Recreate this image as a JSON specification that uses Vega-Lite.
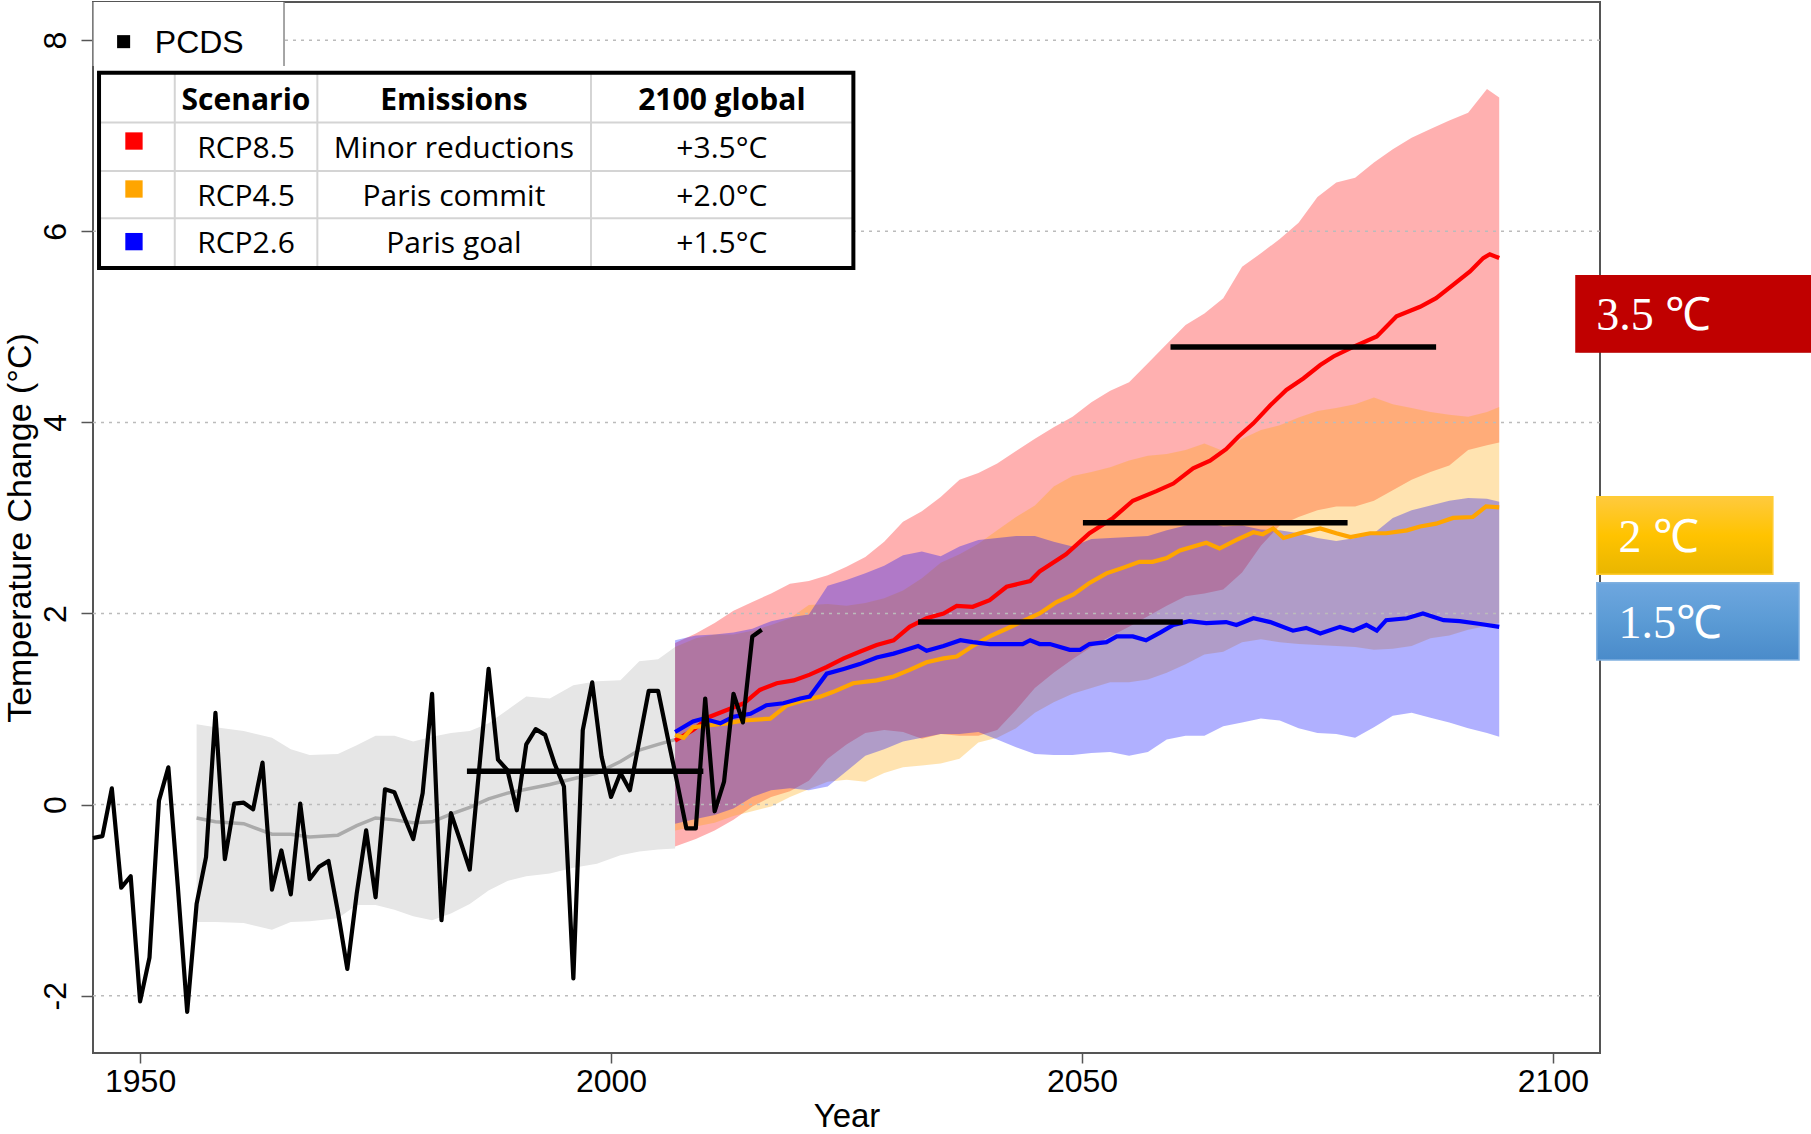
{
"$schema": "https://vega.github.io/schema/vega-lite/v6.json",
"width": 1507, "height": 1051,
"autosize": {"type": "none"},
"padding": {"left": 93, "top": 2, "right": 211, "bottom": 81},
"background": "white",
"config": {"view": {"stroke": "#555555", "strokeWidth": 2}, "font": "Liberation Sans"},
"datasets": {
"hist": [
{"year":1956,"lo":-1.23,"hi":0.84,"mid":-0.14},{"year":1958,"lo":-1.23,"hi":0.81,"mid":-0.18},{"year":1961,"lo":-1.24,"hi":0.77,"mid":-0.20},{"year":1964,"lo":-1.31,"hi":0.70,"mid":-0.31},{"year":1966,"lo":-1.23,"hi":0.58,"mid":-0.31},{"year":1968,"lo":-1.22,"hi":0.52,"mid":-0.34},{"year":1971,"lo":-1.19,"hi":0.53,"mid":-0.32},{"year":1973,"lo":-1.05,"hi":0.62,"mid":-0.22},{"year":1975,"lo":-1.05,"hi":0.72,"mid":-0.14},{"year":1977,"lo":-1.10,"hi":0.72,"mid":-0.16},{"year":1979,"lo":-1.17,"hi":0.66,"mid":-0.19},{"year":1981,"lo":-1.21,"hi":0.71,"mid":-0.18},{"year":1983,"lo":-1.14,"hi":0.75,"mid":-0.10},{"year":1985,"lo":-1.04,"hi":0.77,"mid":-0.03},{"year":1987,"lo":-0.90,"hi":0.85,"mid":0.06},{"year":1989,"lo":-0.80,"hi":0.99,"mid":0.12},{"year":1991,"lo":-0.75,"hi":1.13,"mid":0.16},{"year":1993.5,"lo":-0.72,"hi":1.11,"mid":0.21},{"year":1996,"lo":-0.66,"hi":1.25,"mid":0.27},{"year":1998.5,"lo":-0.62,"hi":1.29,"mid":0.33},{"year":2001,"lo":-0.53,"hi":1.30,"mid":0.45},{"year":2003,"lo":-0.49,"hi":1.50,"mid":0.57},{"year":2005,"lo":-0.47,"hi":1.52,"mid":0.63},{"year":2006.8,"lo":-0.46,"hi":1.65,"mid":0.68}
],
"proj": [
{"year":2006.8,"r_lo":-0.44,"r_hi":1.69,"o_lo":-0.27,"o_hi":1.65,"b_lo":-0.20,"b_hi":1.72},
{"year":2009,"r_lo":-0.36,"r_hi":1.79,"o_lo":-0.23,"o_hi":1.74,"b_lo":-0.15,"b_hi":1.77},
{"year":2011,"r_lo":-0.27,"r_hi":1.90,"o_lo":-0.19,"o_hi":1.78,"b_lo":-0.11,"b_hi":1.78},
{"year":2013,"r_lo":-0.16,"r_hi":2.03,"o_lo":-0.12,"o_hi":1.78,"b_lo":-0.04,"b_hi":1.80},
{"year":2015,"r_lo":-0.02,"r_hi":2.12,"o_lo":-0.07,"o_hi":1.82,"b_lo":0.08,"b_hi":1.84},
{"year":2017,"r_lo":0.08,"r_hi":2.21,"o_lo":-0.02,"o_hi":1.88,"b_lo":0.15,"b_hi":1.92},
{"year":2019,"r_lo":0.14,"r_hi":2.31,"o_lo":0.08,"o_hi":1.95,"b_lo":0.17,"b_hi":1.96},
{"year":2021,"r_lo":0.25,"r_hi":2.34,"o_lo":0.16,"o_hi":2.09,"b_lo":0.15,"b_hi":1.99},
{"year":2023,"r_lo":0.48,"r_hi":2.40,"o_lo":0.24,"o_hi":2.10,"b_lo":0.19,"b_hi":2.29},
{"year":2025,"r_lo":0.63,"r_hi":2.49,"o_lo":0.26,"o_hi":2.08,"b_lo":0.35,"b_hi":2.35},
{"year":2027,"r_lo":0.75,"r_hi":2.59,"o_lo":0.24,"o_hi":2.11,"b_lo":0.51,"b_hi":2.42},
{"year":2029,"r_lo":0.78,"r_hi":2.75,"o_lo":0.33,"o_hi":2.16,"b_lo":0.58,"b_hi":2.50},
{"year":2031,"r_lo":0.76,"r_hi":2.96,"o_lo":0.39,"o_hi":2.24,"b_lo":0.66,"b_hi":2.61},
{"year":2033,"r_lo":0.69,"r_hi":3.07,"o_lo":0.41,"o_hi":2.37,"b_lo":0.70,"b_hi":2.65},
{"year":2035,"r_lo":0.74,"r_hi":3.22,"o_lo":0.43,"o_hi":2.53,"b_lo":0.74,"b_hi":2.60},
{"year":2037,"r_lo":0.72,"r_hi":3.40,"o_lo":0.48,"o_hi":2.62,"b_lo":0.74,"b_hi":2.70},
{"year":2039,"r_lo":0.72,"r_hi":3.47,"o_lo":0.65,"o_hi":2.73,"b_lo":0.76,"b_hi":2.77},
{"year":2041,"r_lo":0.78,"r_hi":3.57,"o_lo":0.70,"o_hi":2.87,"b_lo":0.68,"b_hi":2.79},
{"year":2043,"r_lo":0.99,"r_hi":3.70,"o_lo":0.80,"o_hi":3.01,"b_lo":0.60,"b_hi":2.81},
{"year":2045,"r_lo":1.22,"r_hi":3.83,"o_lo":0.96,"o_hi":3.13,"b_lo":0.53,"b_hi":2.81},
{"year":2047,"r_lo":1.38,"r_hi":3.95,"o_lo":1.07,"o_hi":3.33,"b_lo":0.52,"b_hi":2.75},
{"year":2049,"r_lo":1.52,"r_hi":4.06,"o_lo":1.16,"o_hi":3.44,"b_lo":0.52,"b_hi":2.70},
{"year":2051,"r_lo":1.65,"r_hi":4.21,"o_lo":1.22,"o_hi":3.48,"b_lo":0.54,"b_hi":2.78},
{"year":2053,"r_lo":1.76,"r_hi":4.33,"o_lo":1.28,"o_hi":3.53,"b_lo":0.55,"b_hi":2.79},
{"year":2055,"r_lo":1.86,"r_hi":4.42,"o_lo":1.28,"o_hi":3.60,"b_lo":0.51,"b_hi":2.80},
{"year":2057,"r_lo":1.97,"r_hi":4.62,"o_lo":1.31,"o_hi":3.65,"b_lo":0.55,"b_hi":2.81},
{"year":2059,"r_lo":2.08,"r_hi":4.82,"o_lo":1.38,"o_hi":3.67,"b_lo":0.68,"b_hi":2.87},
{"year":2061,"r_lo":2.18,"r_hi":5.02,"o_lo":1.47,"o_hi":3.71,"b_lo":0.72,"b_hi":2.92},
{"year":2063,"r_lo":2.21,"r_hi":5.14,"o_lo":1.57,"o_hi":3.78,"b_lo":0.72,"b_hi":2.96},
{"year":2065,"r_lo":2.25,"r_hi":5.30,"o_lo":1.60,"o_hi":3.70,"b_lo":0.82,"b_hi":2.91},
{"year":2067,"r_lo":2.43,"r_hi":5.63,"o_lo":1.70,"o_hi":3.83,"b_lo":0.86,"b_hi":2.92},
{"year":2069,"r_lo":2.71,"r_hi":5.77,"o_lo":1.73,"o_hi":3.92,"b_lo":0.90,"b_hi":2.88},
{"year":2071,"r_lo":2.92,"r_hi":5.92,"o_lo":1.70,"o_hi":3.97,"b_lo":0.88,"b_hi":2.87},
{"year":2073,"r_lo":3.01,"r_hi":6.09,"o_lo":1.68,"o_hi":4.05,"b_lo":0.80,"b_hi":2.84},
{"year":2075,"r_lo":3.08,"r_hi":6.36,"o_lo":1.67,"o_hi":4.12,"b_lo":0.75,"b_hi":2.79},
{"year":2077,"r_lo":3.12,"r_hi":6.51,"o_lo":1.66,"o_hi":4.15,"b_lo":0.74,"b_hi":2.76},
{"year":2079,"r_lo":3.12,"r_hi":6.56,"o_lo":1.65,"o_hi":4.19,"b_lo":0.70,"b_hi":2.79},
{"year":2081,"r_lo":3.18,"r_hi":6.72,"o_lo":1.62,"o_hi":4.26,"b_lo":0.81,"b_hi":2.84},
{"year":2083,"r_lo":3.29,"r_hi":6.86,"o_lo":1.63,"o_hi":4.19,"b_lo":0.93,"b_hi":3.00},
{"year":2085,"r_lo":3.40,"r_hi":6.98,"o_lo":1.66,"o_hi":4.15,"b_lo":0.96,"b_hi":3.08},
{"year":2087,"r_lo":3.48,"r_hi":7.07,"o_lo":1.74,"o_hi":4.11,"b_lo":0.91,"b_hi":3.13},
{"year":2089,"r_lo":3.55,"r_hi":7.16,"o_lo":1.77,"o_hi":4.08,"b_lo":0.86,"b_hi":3.18},
{"year":2091,"r_lo":3.71,"r_hi":7.24,"o_lo":1.83,"o_hi":4.06,"b_lo":0.80,"b_hi":3.21},
{"year":2093,"r_lo":3.76,"r_hi":7.49,"o_lo":1.87,"o_hi":4.11,"b_lo":0.75,"b_hi":3.20},
{"year":2094.3,"r_lo":3.79,"r_hi":7.40,"o_lo":1.90,"o_hi":4.16,"b_lo":0.71,"b_hi":3.17}
],
"lines": [
{"s":"RCP8.5","year":2006.8,"temp":0.67},{"s":"RCP8.5","year":2008.7,"temp":0.78},{"s":"RCP8.5","year":2010.5,"temp":0.92},{"s":"RCP8.5","year":2012.3,"temp":0.99},{"s":"RCP8.5","year":2014.1,"temp":1.06},{"s":"RCP8.5","year":2015.8,"temp":1.20},{"s":"RCP8.5","year":2017.6,"temp":1.27},{"s":"RCP8.5","year":2019.4,"temp":1.30},{"s":"RCP8.5","year":2021.1,"temp":1.36},{"s":"RCP8.5","year":2022.9,"temp":1.44},{"s":"RCP8.5","year":2024.7,"temp":1.53},{"s":"RCP8.5","year":2026.4,"temp":1.60},{"s":"RCP8.5","year":2028.2,"temp":1.67},{"s":"RCP8.5","year":2030.0,"temp":1.72},{"s":"RCP8.5","year":2031.7,"temp":1.86},{"s":"RCP8.5","year":2033.5,"temp":1.95},{"s":"RCP8.5","year":2035.3,"temp":2.00},{"s":"RCP8.5","year":2036.7,"temp":2.08},{"s":"RCP8.5","year":2038.4,"temp":2.07},{"s":"RCP8.5","year":2040.2,"temp":2.14},{"s":"RCP8.5","year":2042.0,"temp":2.28},{"s":"RCP8.5","year":2044.5,"temp":2.34},{"s":"RCP8.5","year":2045.5,"temp":2.44},{"s":"RCP8.5","year":2048.3,"temp":2.62},{"s":"RCP8.5","year":2050.8,"temp":2.84},{"s":"RCP8.5","year":2053.3,"temp":3.00},{"s":"RCP8.5","year":2055.4,"temp":3.18},{"s":"RCP8.5","year":2057.9,"temp":3.28},{"s":"RCP8.5","year":2059.7,"temp":3.36},{"s":"RCP8.5","year":2061.8,"temp":3.52},{"s":"RCP8.5","year":2063.6,"temp":3.60},{"s":"RCP8.5","year":2065.3,"temp":3.72},{"s":"RCP8.5","year":2066.6,"temp":3.85},{"s":"RCP8.5","year":2068.2,"temp":3.99},{"s":"RCP8.5","year":2070.0,"temp":4.18},{"s":"RCP8.5","year":2071.7,"temp":4.34},{"s":"RCP8.5","year":2073.5,"temp":4.46},{"s":"RCP8.5","year":2075.3,"temp":4.60},{"s":"RCP8.5","year":2076.7,"temp":4.69},{"s":"RCP8.5","year":2078.8,"temp":4.79},{"s":"RCP8.5","year":2081.3,"temp":4.90},{"s":"RCP8.5","year":2083.4,"temp":5.11},{"s":"RCP8.5","year":2085.9,"temp":5.21},{"s":"RCP8.5","year":2087.6,"temp":5.30},{"s":"RCP8.5","year":2089.4,"temp":5.44},{"s":"RCP8.5","year":2091.2,"temp":5.58},{"s":"RCP8.5","year":2092.6,"temp":5.72},{"s":"RCP8.5","year":2093.3,"temp":5.76},{"s":"RCP8.5","year":2094.3,"temp":5.72},
{"s":"RCP4.5","year":2006.8,"temp":0.73},{"s":"RCP4.5","year":2007.7,"temp":0.70},{"s":"RCP4.5","year":2008.7,"temp":0.81},{"s":"RCP4.5","year":2010.5,"temp":0.83},{"s":"RCP4.5","year":2012.3,"temp":0.85},{"s":"RCP4.5","year":2014.1,"temp":0.88},{"s":"RCP4.5","year":2016.9,"temp":0.90},{"s":"RCP4.5","year":2018.7,"temp":1.04},{"s":"RCP4.5","year":2020.4,"temp":1.09},{"s":"RCP4.5","year":2022.2,"temp":1.13},{"s":"RCP4.5","year":2023.6,"temp":1.18},{"s":"RCP4.5","year":2025.7,"temp":1.27},{"s":"RCP4.5","year":2028.2,"temp":1.30},{"s":"RCP4.5","year":2030.0,"temp":1.34},{"s":"RCP4.5","year":2031.7,"temp":1.41},{"s":"RCP4.5","year":2033.5,"temp":1.49},{"s":"RCP4.5","year":2035.3,"temp":1.53},{"s":"RCP4.5","year":2036.7,"temp":1.55},{"s":"RCP4.5","year":2038.4,"temp":1.66},{"s":"RCP4.5","year":2040.2,"temp":1.76},{"s":"RCP4.5","year":2042.0,"temp":1.84},{"s":"RCP4.5","year":2043.7,"temp":1.92},{"s":"RCP4.5","year":2045.5,"temp":2.00},{"s":"RCP4.5","year":2047.3,"temp":2.12},{"s":"RCP4.5","year":2049.1,"temp":2.20},{"s":"RCP4.5","year":2050.8,"temp":2.32},{"s":"RCP4.5","year":2052.6,"temp":2.42},{"s":"RCP4.5","year":2054.4,"temp":2.48},{"s":"RCP4.5","year":2056.1,"temp":2.54},{"s":"RCP4.5","year":2057.5,"temp":2.54},{"s":"RCP4.5","year":2059.0,"temp":2.58},{"s":"RCP4.5","year":2060.4,"temp":2.66},{"s":"RCP4.5","year":2063.2,"temp":2.74},{"s":"RCP4.5","year":2064.6,"temp":2.68},{"s":"RCP4.5","year":2066.4,"temp":2.77},{"s":"RCP4.5","year":2068.2,"temp":2.85},{"s":"RCP4.5","year":2069.2,"temp":2.83},{"s":"RCP4.5","year":2070.3,"temp":2.89},{"s":"RCP4.5","year":2071.4,"temp":2.79},{"s":"RCP4.5","year":2073.5,"temp":2.85},{"s":"RCP4.5","year":2075.3,"temp":2.89},{"s":"RCP4.5","year":2077.0,"temp":2.84},{"s":"RCP4.5","year":2078.5,"temp":2.80},{"s":"RCP4.5","year":2080.6,"temp":2.84},{"s":"RCP4.5","year":2082.3,"temp":2.84},{"s":"RCP4.5","year":2084.5,"temp":2.87},{"s":"RCP4.5","year":2085.9,"temp":2.91},{"s":"RCP4.5","year":2087.6,"temp":2.94},{"s":"RCP4.5","year":2089.4,"temp":3.00},{"s":"RCP4.5","year":2091.5,"temp":3.01},{"s":"RCP4.5","year":2092.9,"temp":3.12},{"s":"RCP4.5","year":2094.3,"temp":3.11},
{"s":"RCP2.6","year":2006.8,"temp":0.76},{"s":"RCP2.6","year":2008.7,"temp":0.87},{"s":"RCP2.6","year":2009.8,"temp":0.90},{"s":"RCP2.6","year":2011.6,"temp":0.85},{"s":"RCP2.6","year":2013.0,"temp":0.92},{"s":"RCP2.6","year":2014.8,"temp":0.95},{"s":"RCP2.6","year":2016.5,"temp":1.04},{"s":"RCP2.6","year":2018.3,"temp":1.06},{"s":"RCP2.6","year":2020.1,"temp":1.11},{"s":"RCP2.6","year":2021.1,"temp":1.13},{"s":"RCP2.6","year":2022.9,"temp":1.37},{"s":"RCP2.6","year":2024.7,"temp":1.42},{"s":"RCP2.6","year":2026.4,"temp":1.47},{"s":"RCP2.6","year":2028.2,"temp":1.54},{"s":"RCP2.6","year":2030.0,"temp":1.58},{"s":"RCP2.6","year":2031.0,"temp":1.61},{"s":"RCP2.6","year":2032.6,"temp":1.66},{"s":"RCP2.6","year":2033.5,"temp":1.61},{"s":"RCP2.6","year":2035.3,"temp":1.66},{"s":"RCP2.6","year":2037.1,"temp":1.72},{"s":"RCP2.6","year":2038.4,"temp":1.70},{"s":"RCP2.6","year":2040.2,"temp":1.68},{"s":"RCP2.6","year":2043.7,"temp":1.68},{"s":"RCP2.6","year":2044.5,"temp":1.72},{"s":"RCP2.6","year":2045.5,"temp":1.68},{"s":"RCP2.6","year":2046.6,"temp":1.68},{"s":"RCP2.6","year":2048.7,"temp":1.62},{"s":"RCP2.6","year":2049.8,"temp":1.62},{"s":"RCP2.6","year":2050.8,"temp":1.68},{"s":"RCP2.6","year":2052.6,"temp":1.70},{"s":"RCP2.6","year":2053.7,"temp":1.76},{"s":"RCP2.6","year":2055.4,"temp":1.76},{"s":"RCP2.6","year":2056.8,"temp":1.72},{"s":"RCP2.6","year":2058.3,"temp":1.80},{"s":"RCP2.6","year":2059.7,"temp":1.88},{"s":"RCP2.6","year":2061.4,"temp":1.92},{"s":"RCP2.6","year":2063.2,"temp":1.90},{"s":"RCP2.6","year":2065.3,"temp":1.91},{"s":"RCP2.6","year":2066.4,"temp":1.88},{"s":"RCP2.6","year":2068.2,"temp":1.95},{"s":"RCP2.6","year":2070.0,"temp":1.91},{"s":"RCP2.6","year":2072.4,"temp":1.82},{"s":"RCP2.6","year":2073.8,"temp":1.85},{"s":"RCP2.6","year":2075.3,"temp":1.79},{"s":"RCP2.6","year":2077.4,"temp":1.86},{"s":"RCP2.6","year":2078.8,"temp":1.82},{"s":"RCP2.6","year":2080.2,"temp":1.88},{"s":"RCP2.6","year":2081.3,"temp":1.82},{"s":"RCP2.6","year":2082.3,"temp":1.93},{"s":"RCP2.6","year":2084.5,"temp":1.95},{"s":"RCP2.6","year":2086.2,"temp":2.00},{"s":"RCP2.6","year":2088.4,"temp":1.93},{"s":"RCP2.6","year":2090.1,"temp":1.92},{"s":"RCP2.6","year":2092.3,"temp":1.89},{"s":"RCP2.6","year":2094.3,"temp":1.86}
],
"obs": [
{"year":1945,"temp":-0.35},{"year":1946,"temp":-0.33},{"year":1947,"temp":0.17},{"year":1948,"temp":-0.87},{"year":1949,"temp":-0.75},{"year":1950,"temp":-2.06},{"year":1951,"temp":-1.60},{"year":1952,"temp":0.04},{"year":1953,"temp":0.39},{"year":1954,"temp":-0.85},{"year":1955,"temp":-2.17},{"year":1956,"temp":-1.04},{"year":1957,"temp":-0.55},{"year":1958,"temp":0.96},{"year":1959,"temp":-0.57},{"year":1960,"temp":0.01},{"year":1961,"temp":0.02},{"year":1962,"temp":-0.05},{"year":1963,"temp":0.44},{"year":1964,"temp":-0.89},{"year":1965,"temp":-0.48},{"year":1966,"temp":-0.94},{"year":1967,"temp":0.01},{"year":1968,"temp":-0.78},{"year":1969,"temp":-0.65},{"year":1970,"temp":-0.59},{"year":1971,"temp":-1.12},{"year":1972,"temp":-1.72},{"year":1973,"temp":-0.93},{"year":1974,"temp":-0.27},{"year":1975,"temp":-0.97},{"year":1976,"temp":0.16},{"year":1977,"temp":0.13},{"year":1978,"temp":-0.12},{"year":1979,"temp":-0.36},{"year":1980,"temp":0.12},{"year":1981,"temp":1.16},{"year":1982,"temp":-1.21},{"year":1983,"temp":-0.09},{"year":1984,"temp":-0.38},{"year":1985,"temp":-0.68},{"year":1986,"temp":0.37},{"year":1987,"temp":1.42},{"year":1988,"temp":0.47},{"year":1989,"temp":0.36},{"year":1990,"temp":-0.06},{"year":1991,"temp":0.63},{"year":1992,"temp":0.79},{"year":1993,"temp":0.73},{"year":1994,"temp":0.43},{"year":1995,"temp":0.19},{"year":1996,"temp":-1.82},{"year":1997,"temp":0.78},{"year":1998,"temp":1.28},{"year":1999,"temp":0.50},{"year":2000,"temp":0.08},{"year":2001,"temp":0.33},{"year":2002,"temp":0.15},{"year":2003,"temp":0.67},{"year":2004,"temp":1.19},{"year":2005,"temp":1.19},{"year":2006,"temp":0.71},{"year":2007,"temp":0.24},{"year":2008,"temp":-0.25},{"year":2009,"temp":-0.25},{"year":2010,"temp":1.11},{"year":2011,"temp":-0.07},{"year":2012,"temp":0.24},{"year":2013,"temp":1.16},{"year":2014,"temp":0.86},{"year":2015,"temp":1.76},{"year":2016,"temp":1.83}
],
"segs": [{"start":1984.7,"end":2009.8,"temp":0.35},{"start":2032.6,"end":2060.7,"temp":1.91},{"start":2050.1,"end":2078.2,"temp":2.95},{"start":2059.4,"end":2087.6,"temp":4.79}],
"grid": [{"g":-2},{"g":0},{"g":2},{"g":4},{"g":6},{"g":8}],
"pcds": [{"x1":1945.0,"x2":1965.28,"y1":7.73,"y2":8.4,"sx":1948.25,"sy":7.985,"tx":1951.56,"ty":7.866,"label":"PCDS"}],
"pcdsSides": [{"x":1945.0,"y1":7.73,"y2":8.4},{"x":1965.28,"y1":7.73,"y2":8.4}],
"tableBox": [{"x1":1945.64,"x2":2025.73,"y1":5.616,"y2":7.659}],
"tgrid": [
{"x1":1953.68,"x2":1953.68,"y1":5.616,"y2":7.659},{"x1":1968.82,"x2":1968.82,"y1":5.616,"y2":7.659},{"x1":1997.87,"x2":1997.87,"y1":5.616,"y2":7.659},
{"x1":1945.64,"x2":2025.73,"y1":7.140,"y2":7.140},{"x1":1945.64,"x2":2025.73,"y1":6.631,"y2":6.631},{"x1":1945.64,"x2":2025.73,"y1":6.136,"y2":6.136}
],
"tableText": [
{"tx":1961.24,"ty":7.27,"label":"Scenario","kind":"head"},{"tx":1983.32,"ty":7.27,"label":"Emissions","kind":"head"},{"tx":2011.77,"ty":7.27,"label":"2100 global","kind":"head"},
{"tx":1961.24,"ty":6.764,"label":"RCP8.5","kind":"body"},{"tx":1983.32,"ty":6.764,"label":"Minor reductions","kind":"body"},{"tx":2011.77,"ty":6.764,"label":"+3.5°C","kind":"body"},
{"tx":1961.24,"ty":6.268,"label":"RCP4.5","kind":"body"},{"tx":1983.32,"ty":6.268,"label":"Paris commit","kind":"body"},{"tx":2011.77,"ty":6.268,"label":"+2.0°C","kind":"body"},
{"tx":1961.24,"ty":5.77,"label":"RCP2.6","kind":"body"},{"tx":1983.32,"ty":5.77,"label":"Paris goal","kind":"body"},{"tx":2011.77,"ty":5.77,"label":"+1.5°C","kind":"body"}
],
"squares": [{"sx":1949.35,"sy":6.945,"scenario":"RCP8.5"},{"sx":1949.35,"sy":6.443,"scenario":"RCP4.5"},{"sx":1949.35,"sy":5.892,"scenario":"RCP2.6"}],
"boxes": [
{"label":"3.5 ℃","x1":2102.37,"x2":2128,"y1":5.543,"y2":4.73,"tx":2104.6,"ty":4.967},
{"label":"2 ℃","x1":2104.66,"x2":2123.35,"y1":3.223,"y2":2.411,"tx":2106.97,"ty":2.647},
{"label":"1.5℃","x1":2104.66,"x2":2126.13,"y1":2.323,"y2":1.514,"tx":2106.97,"ty":1.741}
]
},
"layer": [
{"data":{"name":"hist"},"mark":{"type":"area","color":"#E6E6E6"},
 "encoding":{
  "x":{"field":"year","type":"quantitative","scale":{"domain":[1945,2105],"nice":false,"zero":false},
   "axis":{"title":"Year","values":[1950,2000,2050,2100],"format":"d","grid":false,"domain":false,"tickSize":10,"tickColor":"#555555","tickWidth":1.5,"labelFont":"Liberation Sans","labelFontSize":32,"labelColor":"#000000","labelPadding":3,"labelFlush":false,"titleFont":"Liberation Sans","titleFontSize":33,"titleFontWeight":"normal","titleColor":"#000000","titlePadding":3}},
  "y":{"field":"lo","type":"quantitative","scale":{"domain":[-2.6,8.4],"nice":false,"zero":false},
   "axis":{"title":"Temperature Change (°C)","values":[-2,0,2,4,6,8],"labelExpr":"datum.value < 0 ? '-' + toString(-datum.value) : toString(datum.value)","grid":false,"domain":false,"tickSize":12,"tickColor":"#555555","tickWidth":1.5,"labelFont":"Liberation Sans","labelFontSize":32,"labelColor":"#000000","labelAngle":270,"labelAlign":"center","labelBaseline":"bottom","labelPadding":9,"labelFlush":false,"titleFont":"Liberation Sans","titleFontSize":34,"titleFontWeight":"normal","titleColor":"#000000","titlePadding":2}},
  "y2":{"field":"hi"}}},
{"data":{"name":"hist"},"mark":{"type":"line","color":"#ABABAB","strokeWidth":3.5},
 "encoding":{"x":{"field":"year","type":"quantitative","scale":{"domain":[1945,2105],"nice":false,"zero":false}},
  "y":{"field":"mid","type":"quantitative","scale":{"domain":[-2.6,8.4],"nice":false,"zero":false}}}},
{"data":{"name":"proj"},"mark":{"type":"area","color":"#FF0000","opacity":0.31},
 "encoding":{"x":{"field":"year","type":"quantitative","scale":{"domain":[1945,2105],"nice":false,"zero":false}},
  "y":{"field":"r_lo","type":"quantitative","scale":{"domain":[-2.6,8.4],"nice":false,"zero":false}},"y2":{"field":"r_hi"}}},
{"data":{"name":"proj"},"mark":{"type":"area","color":"#FFA500","opacity":0.31},
 "encoding":{"x":{"field":"year","type":"quantitative","scale":{"domain":[1945,2105],"nice":false,"zero":false}},
  "y":{"field":"o_lo","type":"quantitative","scale":{"domain":[-2.6,8.4],"nice":false,"zero":false}},"y2":{"field":"o_hi"}}},
{"data":{"name":"proj"},"mark":{"type":"area","color":"#0000FF","opacity":0.31},
 "encoding":{"x":{"field":"year","type":"quantitative","scale":{"domain":[1945,2105],"nice":false,"zero":false}},
  "y":{"field":"b_lo","type":"quantitative","scale":{"domain":[-2.6,8.4],"nice":false,"zero":false}},"y2":{"field":"b_hi"}}},
{"data":{"name":"grid"},"mark":{"type":"rule","color":"#BBBBBB","strokeWidth":1.5,"strokeDash":[3,5]},
 "encoding":{"y":{"field":"g","type":"quantitative","scale":{"domain":[-2.6,8.4],"nice":false,"zero":false}}}},
{"data":{"name":"lines"},"transform":[{"filter":"datum.s === 'RCP8.5'"}],"mark":{"type":"line","color":"#FF0000","strokeWidth":4.2},
 "encoding":{"x":{"field":"year","type":"quantitative","scale":{"domain":[1945,2105],"nice":false,"zero":false}},
  "y":{"field":"temp","type":"quantitative","scale":{"domain":[-2.6,8.4],"nice":false,"zero":false}}}},
{"data":{"name":"lines"},"transform":[{"filter":"datum.s === 'RCP4.5'"}],"mark":{"type":"line","color":"#FFA500","strokeWidth":4.2},
 "encoding":{"x":{"field":"year","type":"quantitative","scale":{"domain":[1945,2105],"nice":false,"zero":false}},
  "y":{"field":"temp","type":"quantitative","scale":{"domain":[-2.6,8.4],"nice":false,"zero":false}}}},
{"data":{"name":"lines"},"transform":[{"filter":"datum.s === 'RCP2.6'"}],"mark":{"type":"line","color":"#0000FF","strokeWidth":4.2},
 "encoding":{"x":{"field":"year","type":"quantitative","scale":{"domain":[1945,2105],"nice":false,"zero":false}},
  "y":{"field":"temp","type":"quantitative","scale":{"domain":[-2.6,8.4],"nice":false,"zero":false}}}},
{"data":{"name":"obs"},"mark":{"type":"line","color":"#000000","strokeWidth":4.2,"strokeJoin":"round"},
 "encoding":{"x":{"field":"year","type":"quantitative","scale":{"domain":[1945,2105],"nice":false,"zero":false}},
  "y":{"field":"temp","type":"quantitative","scale":{"domain":[-2.6,8.4],"nice":false,"zero":false}}}},
{"data":{"name":"segs"},"mark":{"type":"rule","color":"#000000","strokeWidth":5.5},
 "encoding":{"x":{"field":"start","type":"quantitative","scale":{"domain":[1945,2105],"nice":false,"zero":false}},"x2":{"field":"end"},
  "y":{"field":"temp","type":"quantitative","scale":{"domain":[-2.6,8.4],"nice":false,"zero":false}}}},
{"data":{"name":"pcds"},"mark":{"type":"rect","color":"#FFFFFF"},
 "encoding":{"x":{"field":"x1","type":"quantitative","scale":{"domain":[1945,2105],"nice":false,"zero":false}},"x2":{"field":"x2"},
  "y":{"field":"y1","type":"quantitative","scale":{"domain":[-2.6,8.4],"nice":false,"zero":false}},"y2":{"field":"y2"}}},
{"data":{"name":"pcdsSides"},"mark":{"type":"rule","color":"#888888","strokeWidth":1.5},
 "encoding":{"x":{"field":"x","type":"quantitative","scale":{"domain":[1945,2105],"nice":false,"zero":false}},
  "y":{"field":"y1","type":"quantitative","scale":{"domain":[-2.6,8.4],"nice":false,"zero":false}},"y2":{"field":"y2"}}},
{"data":{"name":"pcds"},"mark":{"type":"point","shape":"square","filled":true,"color":"#000000","size":170,"opacity":1},
 "encoding":{"x":{"field":"sx","type":"quantitative","scale":{"domain":[1945,2105],"nice":false,"zero":false}},
  "y":{"field":"sy","type":"quantitative","scale":{"domain":[-2.6,8.4],"nice":false,"zero":false}}}},
{"data":{"name":"pcds"},"mark":{"type":"text","align":"left","baseline":"alphabetic","font":"Liberation Sans","fontSize":32,"color":"#000000"},
 "encoding":{"x":{"field":"tx","type":"quantitative","scale":{"domain":[1945,2105],"nice":false,"zero":false}},
  "y":{"field":"ty","type":"quantitative","scale":{"domain":[-2.6,8.4],"nice":false,"zero":false}},"text":{"field":"label"}}},
{"data":{"name":"tableBox"},"mark":{"type":"rect","color":"#FFFFFF"},
 "encoding":{"x":{"field":"x1","type":"quantitative","scale":{"domain":[1945,2105],"nice":false,"zero":false}},"x2":{"field":"x2"},
  "y":{"field":"y1","type":"quantitative","scale":{"domain":[-2.6,8.4],"nice":false,"zero":false}},"y2":{"field":"y2"}}},
{"data":{"name":"tgrid"},"mark":{"type":"rule","color":"#D4D4D4","strokeWidth":2},
 "encoding":{"x":{"field":"x1","type":"quantitative","scale":{"domain":[1945,2105],"nice":false,"zero":false}},"x2":{"field":"x2"},
  "y":{"field":"y1","type":"quantitative","scale":{"domain":[-2.6,8.4],"nice":false,"zero":false}},"y2":{"field":"y2"}}},
{"data":{"name":"tableBox"},"mark":{"type":"rect","fill":"#FFFFFF","fillOpacity":0,"stroke":"#000000","strokeWidth":4},
 "encoding":{"x":{"field":"x1","type":"quantitative","scale":{"domain":[1945,2105],"nice":false,"zero":false}},"x2":{"field":"x2"},
  "y":{"field":"y1","type":"quantitative","scale":{"domain":[-2.6,8.4],"nice":false,"zero":false}},"y2":{"field":"y2"}}},
{"data":{"name":"squares"},"mark":{"type":"point","shape":"square","filled":true,"size":300,"opacity":1},
 "encoding":{"x":{"field":"sx","type":"quantitative","scale":{"domain":[1945,2105],"nice":false,"zero":false}},
  "y":{"field":"sy","type":"quantitative","scale":{"domain":[-2.6,8.4],"nice":false,"zero":false}},
  "color":{"field":"scenario","type":"nominal","scale":{"domain":["RCP8.5","RCP4.5","RCP2.6"],"range":["#FF0000","#FFA500","#0000FF"]},"legend":null}}},
{"data":{"name":"tableText"},"transform":[{"filter":"datum.kind === 'head'"}],"mark":{"type":"text","align":"center","baseline":"alphabetic","font":"Open Sans","fontSize":30,"fontWeight":"bold","color":"#000000"},
 "encoding":{"x":{"field":"tx","type":"quantitative","scale":{"domain":[1945,2105],"nice":false,"zero":false}},
  "y":{"field":"ty","type":"quantitative","scale":{"domain":[-2.6,8.4],"nice":false,"zero":false}},"text":{"field":"label"}}},
{"data":{"name":"tableText"},"transform":[{"filter":"datum.kind === 'body'"}],"mark":{"type":"text","align":"center","baseline":"alphabetic","font":"Open Sans","fontSize":30,"color":"#000000"},
 "encoding":{"x":{"field":"tx","type":"quantitative","scale":{"domain":[1945,2105],"nice":false,"zero":false}},
  "y":{"field":"ty","type":"quantitative","scale":{"domain":[-2.6,8.4],"nice":false,"zero":false}},"text":{"field":"label"}}},
{"data":{"name":"boxes"},"transform":[{"filter":"datum.label === '3.5 ℃'"}],"mark":{"type":"rect","color":"#000000","opacity":0.25,"xOffset":4,"yOffset":5},
 "encoding":{"x":{"field":"x1","type":"quantitative","scale":{"domain":[1945,2105],"nice":false,"zero":false}},"x2":{"field":"x2"},
  "y":{"field":"y1","type":"quantitative","scale":{"domain":[-2.6,8.4],"nice":false,"zero":false}},"y2":{"field":"y2"}}},
{"data":{"name":"boxes"},"transform":[{"filter":"datum.label === '3.5 ℃'"}],"mark":{"type":"rect","color":"#C00000"},
 "encoding":{"x":{"field":"x1","type":"quantitative","scale":{"domain":[1945,2105],"nice":false,"zero":false}},"x2":{"field":"x2"},
  "y":{"field":"y1","type":"quantitative","scale":{"domain":[-2.6,8.4],"nice":false,"zero":false}},"y2":{"field":"y2"}}},
{"data":{"name":"boxes"},"transform":[{"filter":"datum.label === '2 ℃'"}],"mark":{"type":"rect","stroke":"#FFCC33","strokeWidth":1.5,"color":{"gradient":"linear","x1":0,"y1":0,"x2":0,"y2":1,"stops":[{"offset":0,"color":"#FFCA3E"},{"offset":0.5,"color":"#FFC300"},{"offset":1,"color":"#E9B600"}]}},
 "encoding":{"x":{"field":"x1","type":"quantitative","scale":{"domain":[1945,2105],"nice":false,"zero":false}},"x2":{"field":"x2"},
  "y":{"field":"y1","type":"quantitative","scale":{"domain":[-2.6,8.4],"nice":false,"zero":false}},"y2":{"field":"y2"}}},
{"data":{"name":"boxes"},"transform":[{"filter":"datum.label === '1.5℃'"}],"mark":{"type":"rect","stroke":"#7FB0E0","strokeWidth":1.5,"color":{"gradient":"linear","x1":0,"y1":0,"x2":0,"y2":1,"stops":[{"offset":0,"color":"#6EA7DF"},{"offset":0.5,"color":"#5B9BD5"},{"offset":1,"color":"#4A8BCA"}]}},
 "encoding":{"x":{"field":"x1","type":"quantitative","scale":{"domain":[1945,2105],"nice":false,"zero":false}},"x2":{"field":"x2"},
  "y":{"field":"y1","type":"quantitative","scale":{"domain":[-2.6,8.4],"nice":false,"zero":false}},"y2":{"field":"y2"}}},
{"data":{"name":"boxes"},"mark":{"type":"text","align":"left","baseline":"alphabetic","font":"Liberation Serif","fontSize":46,"color":"#FFFFFF"},
 "encoding":{"x":{"field":"tx","type":"quantitative","scale":{"domain":[1945,2105],"nice":false,"zero":false}},
  "y":{"field":"ty","type":"quantitative","scale":{"domain":[-2.6,8.4],"nice":false,"zero":false}},"text":{"field":"label"}}}
]
}
